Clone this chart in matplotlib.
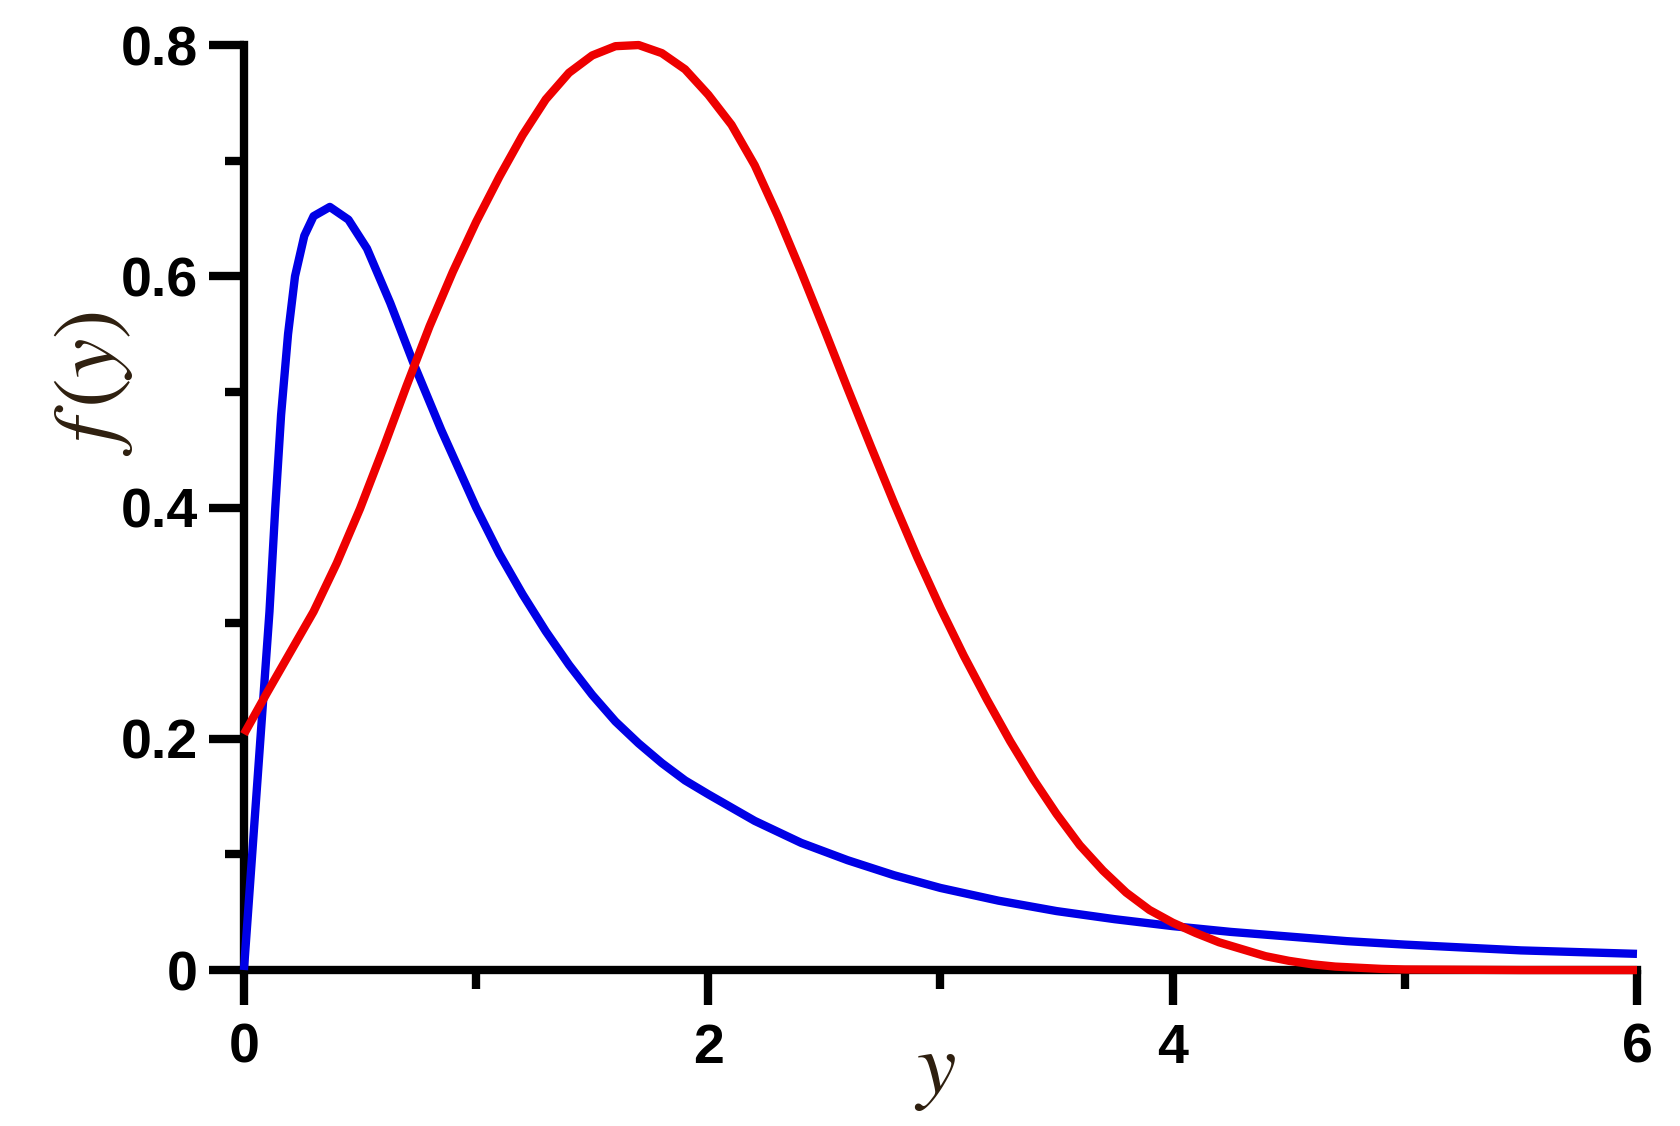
import numpy as np
import matplotlib.pyplot as plt

# values
blue_x = [0.0, 0.11, 0.135, 0.16, 0.19, 0.22, 0.26, 0.30, 0.37, 0.45, 0.53, 0.63,
          0.73, 0.85, 1.0, 1.1, 1.2, 1.3, 1.4, 1.5, 1.6, 1.7, 1.8, 1.9,
          2.0, 2.2, 2.4, 2.6, 2.8, 3.0, 3.25, 3.5, 3.75, 4.0, 4.25, 4.5,
          4.75, 5.0, 5.5, 6.0]
blue_y = [0.0, 0.31, 0.40, 0.48, 0.55, 0.60, 0.635, 0.652, 0.660, 0.649, 0.624, 0.577,
          0.525, 0.467, 0.400, 0.360, 0.325, 0.293, 0.264, 0.238, 0.215, 0.196, 0.179, 0.164,
          0.152, 0.129, 0.110, 0.095, 0.082, 0.071, 0.060, 0.051, 0.044, 0.038, 0.033, 0.029,
          0.025, 0.022, 0.017, 0.014]

red_x = [0.0, 0.1, 0.2, 0.3, 0.4, 0.5, 0.6, 0.7, 0.8, 0.9, 1.0, 1.1,
         1.2, 1.3, 1.4, 1.5, 1.6, 1.7, 1.8, 1.9, 2.0, 2.1, 2.2, 2.3,
         2.4, 2.5, 2.6, 2.7, 2.8, 2.9, 3.0, 3.1, 3.2, 3.3, 3.4, 3.5,
         3.6, 3.7, 3.8, 3.9, 4.0, 4.1, 4.2, 4.3, 4.4, 4.5, 4.6, 4.7,
         4.8, 4.9, 5.0, 5.5, 6.0]
red_y = [0.204, 0.240, 0.275, 0.310, 0.352, 0.399, 0.451, 0.505, 0.557, 0.604, 0.647, 0.686,
         0.722, 0.753, 0.776, 0.791, 0.799, 0.800, 0.793, 0.779, 0.757, 0.731, 0.696, 0.652,
         0.604, 0.554, 0.503, 0.453, 0.404, 0.357, 0.313, 0.272, 0.234, 0.198, 0.165, 0.135,
         0.108, 0.086, 0.067, 0.052, 0.041, 0.032, 0.024, 0.018, 0.012, 0.008, 0.005, 0.003,
         0.002, 0.001, 0.0005, 0.0, 0.0]

x_ticks = [0, 2, 4, 6]
x_tick_labels = ['0', '2', '4', '6']
x_minor = [1, 3, 5]
y_ticks = [0, 0.2, 0.4, 0.6, 0.8]
y_tick_labels = ['0', '0.2', '0.4', '0.6', '0.8']
y_minor = [0.1, 0.3, 0.5, 0.7]

plt.rcParams['mathtext.fontset'] = 'stix'
plt.rcParams['font.family'] = ['Liberation Sans', 'DejaVu Sans']

fig = plt.figure(figsize=(16.8, 11.26), dpi=100)
ax = fig.add_axes([0.1452, 0.1385, 0.8292, 0.8215])

ax.plot(blue_x, blue_y, color='#0000e6', lw=6.0, clip_on=False, zorder=5,
        solid_joinstyle='round', solid_capstyle='butt')
ax.plot(red_x, red_y, color='#ee0000', lw=6.0, clip_on=False, zorder=6,
        solid_joinstyle='round', solid_capstyle='butt')

ax.set_xlim(0, 6)
ax.set_ylim(0, 0.8)

for s in ['top', 'right']:
    ax.spines[s].set_visible(False)
for s in ['left', 'bottom']:
    ax.spines[s].set_linewidth(6)

ax.set_xticks(x_ticks, x_tick_labels, fontweight='bold', fontsize=40)
ax.set_xticks(x_minor, minor=True)
ax.set_yticks(y_ticks, y_tick_labels, fontweight='bold', fontsize=40)
ax.set_yticks(y_minor, minor=True)

ax.tick_params(which='major', length=25, width=6, direction='out')
ax.tick_params(which='minor', length=14, width=6, direction='out')
ax.tick_params(axis='x', which='major', pad=13)
ax.tick_params(axis='y', which='major', pad=8)

label_color = '#2e1f0f'
ax.set_xlabel(r'$y$', fontsize=64, color=label_color, va='center')
ax.xaxis.set_label_coords(0.496, -0.109)
ax.set_ylabel(r'$f\,(y)$', fontsize=64, color=label_color, va='center')
ax.yaxis.set_label_coords(-0.108, 0.634)

plt.savefig('out.png', dpi=100)
